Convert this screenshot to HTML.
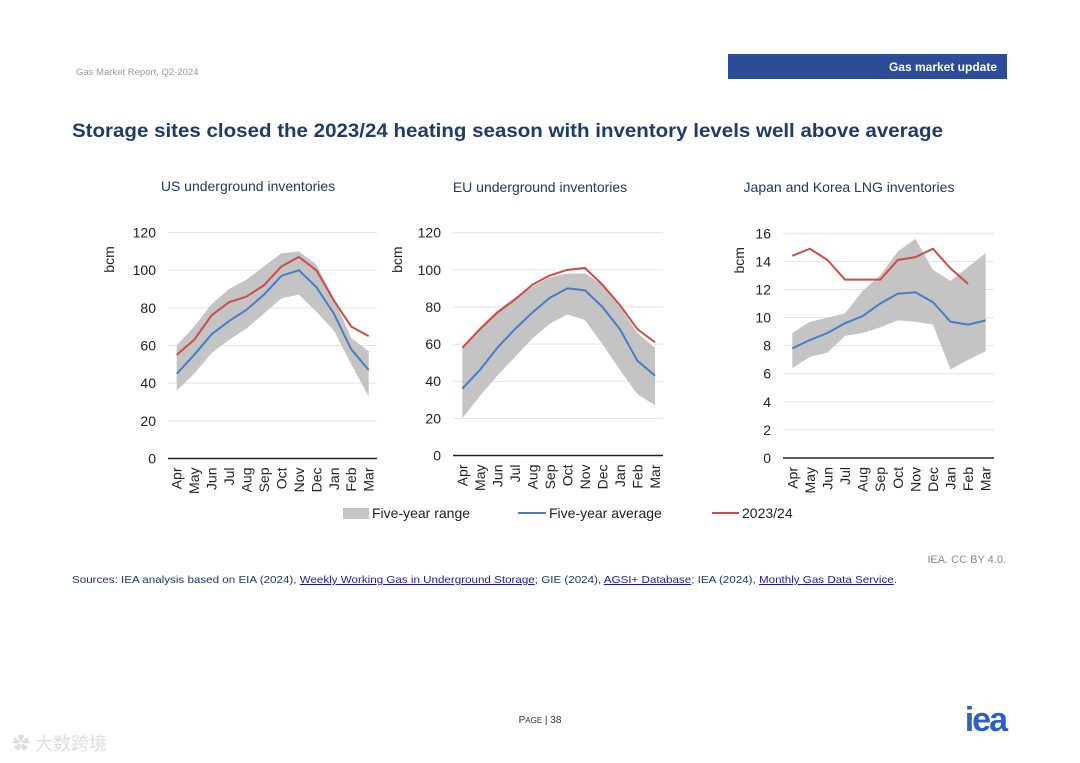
<!DOCTYPE html>
<html><head><meta charset="utf-8"><style>
html,body{margin:0;padding:0;background:#fff;}
svg{display:block;font-family:"Liberation Sans","Noto Sans CJK SC",sans-serif;}
</style></head><body>
<svg id="page" width="1080" height="763" viewBox="0 0 1080 763">
<text x="76" y="75" font-size="9.5" fill="#999">Gas Market Report, Q2-2024</text>
<rect x="728" y="54" width="279" height="25" fill="#2c4c97"/>
<text x="997" y="71" font-size="12" font-weight="bold" fill="#fff" text-anchor="end">Gas market update</text>
<text x="72" y="137" font-size="19.5" font-weight="bold" fill="#1f3c68" textLength="871" lengthAdjust="spacingAndGlyphs">Storage sites closed the 2023/24 heating season with inventory levels well above average</text>
<text x="248" y="191" font-size="14" fill="#1f3864" text-anchor="middle">US underground inventories</text>
<text x="540" y="192" font-size="14" fill="#1f3864" text-anchor="middle">EU underground inventories</text>
<text x="849" y="192" font-size="14" fill="#1f3864" text-anchor="middle">Japan and Korea LNG inventories</text>
<g id="charts"></g>
<rect x="343" y="508" width="26" height="11" fill="#c4c4c4"/>
<text x="372" y="518" font-size="14" fill="#222">Five-year range</text>
<line x1="518" y1="513" x2="546" y2="513" stroke="#4a7bc4" stroke-width="2"/>
<text x="549" y="518" font-size="14" fill="#222">Five-year average</text>
<line x1="712" y1="513" x2="739" y2="513" stroke="#cf4b4b" stroke-width="2"/>
<text x="742" y="518" font-size="14" fill="#222">2023/24</text>
<text x="1006" y="563" font-size="11" fill="#888" text-anchor="end">IEA. CC BY 4.0.</text>
<text x="72" y="583" font-size="10.5" fill="#1f3864" textLength="825" lengthAdjust="spacingAndGlyphs">Sources: IEA analysis based on EIA (2024), <tspan fill="#1a1aa6" text-decoration="underline">Weekly Working Gas in Underground Storage</tspan>; GIE (2024), <tspan fill="#1a1aa6" text-decoration="underline">AGSI+ Database</tspan>; IEA (2024), <tspan fill="#1a1aa6" text-decoration="underline">Monthly Gas Data Service</tspan>.</text>
<text x="540" y="723" font-size="10" fill="#333" text-anchor="middle">P<tspan font-size="8">AGE</tspan> | 38</text>
<text x="1006" y="731" font-size="34" font-weight="bold" fill="#2f5fc4" text-anchor="end" letter-spacing="-2">iea</text>
<text x="12" y="750" font-size="18" fill="#ddd">✿ 大数跨境</text>
</svg>
<script>
const months=["Apr","May","Jun","Jul","Aug","Sep","Oct","Nov","Dec","Jan","Feb","Mar"];
const usUpper=[60,70,82,90,95,102,109,110,103,85,64,57];
const usLower=[36,45,56,63,69,77,85,87,78,68,50,33];
const usAvg=[45,55,66,73,79,87,97,100,91,77,58,47];
const us2324=[55,63,76,83,86,92,102,107,100,84,70,65];
const euUpper=[58,69,78,85,91,96,98,98,92,80,66,58];
const euLower=[20,32,43,53,63,71,76,73,60,46,33,27];
const euAvg=[36,46,58,68,77,85,90,89,80,68,51,43];
const eu2324=[58,68,77,84,92,97,100,101,92,81,68,61];
const jkUpper=[8.9,9.7,10.0,10.3,11.9,13.0,14.7,15.6,13.4,12.6,13.6,14.6];
const jkLower=[6.4,7.2,7.5,8.7,8.9,9.3,9.8,9.7,9.5,6.3,7.0,7.6];
const jkAvg=[7.8,8.4,8.9,9.6,10.1,11.0,11.7,11.8,11.1,9.7,9.5,9.8];
const jk2324=[14.4,14.9,14.1,12.7,12.7,12.7,14.1,14.3,14.9,13.5,12.4];
const usTicks=[0,20,40,60,80,100,120];
const euTicks=[0,20,40,60,80,100,120];
const jkTicks=[0,2,4,6,8,10,12,14,16];

const NS="http://www.w3.org/2000/svg";
const root=document.getElementById('charts');
function mk(tag,attrs,parent){const e=document.createElementNS(NS,tag);for(const k in attrs)e.setAttribute(k,attrs[k]);parent.appendChild(e);return e;}
function chart(id,cfg,upper,lower,avg,cur,ticks){
  const g=mk('g',{},root);
  
  
  const max=ticks[ticks.length-1];
  const y=v=>cfg.y0-(v/max)*(cfg.y0-cfg.yTop);
  const x=i=>cfg.x0+i*(cfg.x1-cfg.x0)/(months.length-1);
  ticks.forEach(t=>{
    if(t>0){const l=mk('line',{x1:cfg.gl,x2:cfg.gr,y1:y(t),y2:y(t),stroke:'#e2e2e2','stroke-width':1},g);
    
    }
    const tx=mk('text',{x:cfg.gl-12,y:y(t)+5,'font-size':14,fill:'#222','text-anchor':'end'},g);
    tx.textContent=t;
    
    
  });
  let pts=upper.map((v,i)=>x(i)+','+y(v));
  for(let i=lower.length-1;i>=0;i--)pts.push(x(i)+','+y(lower[i]));
  const area=mk('polygon',{points:pts.join(' '),fill:'#c4c4c4'},g);
  
  
  const ax=mk('line',{x1:cfg.gl,x2:cfg.gr,y1:y(0),y2:y(0),stroke:'#222','stroke-width':1.5},g);
  
  
  const a=mk('polyline',{points:avg.map((v,i)=>x(i)+','+y(v)).join(' '),fill:'none',stroke:'#4a7bc4','stroke-width':2},g);
  
  
  const c=mk('polyline',{points:cur.map((v,i)=>x(i)+','+y(v)).join(' '),fill:'none',stroke:'#cf4b4b','stroke-width':2},g);
  
  
  months.forEach((m,i)=>{
    const t=mk('text',{x:0,y:0,'font-size':14,fill:'#222','text-anchor':'end',transform:`translate(${x(i)+5},${y(0)+9}) rotate(-90)`},g);
    t.textContent=m;
    
    
  });
  const yl=mk('text',{x:0,y:0,'font-size':14,fill:'#222','text-anchor':'middle',transform:`translate(${cfg.yl},${y(max)+27}) rotate(-90)`},g);
  yl.textContent='bcm';
  
  
}
chart('us',{x0:176.7,x1:368.7,y0:458.5,yTop:232.5,gl:168,gr:377,yl:114},usUpper,usLower,usAvg,us2324,usTicks);
chart('eu',{x0:462.3,x1:655,y0:455.5,yTop:232.7,gl:453,gr:663,yl:402},euUpper,euLower,euAvg,eu2324,euTicks);
chart('jk',{x0:792.3,x1:985.7,y0:458,yTop:233.3,gl:783,gr:994,yl:744},jkUpper,jkLower,jkAvg,jk2324,jkTicks);
</script>
</body></html>
